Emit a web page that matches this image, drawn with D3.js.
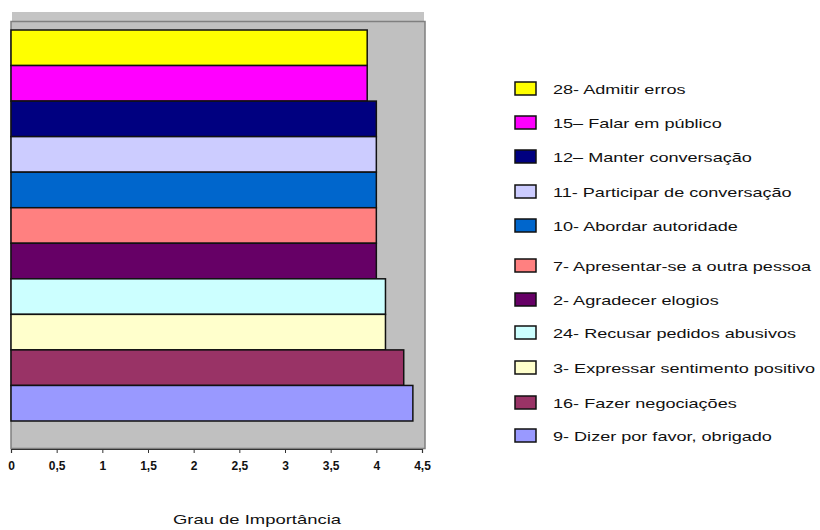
<!DOCTYPE html>
<html>
<head>
<meta charset="utf-8">
<script src="https://cdn.jsdelivr.net/npm/d3@7/dist/d3.min.js"></script>
<style>
  html, body { margin: 0; padding: 0; background: #ffffff; }
  svg { display: block; font-family: Arial, "Liberation Sans", sans-serif; }
</style>
</head>
<body>
<svg id="chart" width="820" height="530"></svg>
<script>
// Skills, from top bar to bottom bar
const categories = [
  "28- Admitir erros",
  "15\u2013 Falar em público",
  "12\u2013 Manter conversação",
  "11- Participar de conversação",
  "10- Abordar autoridade",
  "7- Apresentar-se a outra pessoa",
  "2- Agradecer elogios",
  "24- Recusar pedidos abusivos",
  "3- Expressar sentimento positivo",
  "16- Fazer negociações",
  "9- Dizer por favor, obrigado"
];
// Degree of importance for each skill
const values = [3.9, 3.9, 4.0, 4.0, 4.0, 4.0, 4.0, 4.1, 4.1, 4.3, 4.4];
const barColors = ["#FFFF00", "#FF00FF", "#000080", "#CCCCFF", "#0066CC", "#FF8080",
                   "#660066", "#CCFFFF", "#FFFFCC", "#993366", "#9999FF"];
const tickValues = [0, 0.5, 1, 1.5, 2, 2.5, 3, 3.5, 4, 4.5];
const axisTitle = "Grau de Importância";

const svg = d3.select("#chart");

const x = d3.scaleLinear().domain([0, 4.5]).range([11, 422]);
const y = d3.scaleBand().domain(categories).range([30, 421]).padding(0);

// plot area: light top rim, grey wall, dark frame
svg.append("rect").attr("x", 12).attr("y", 12).attr("width", 412).attr("height", 10)
  .attr("fill", "#c4c4c4");
svg.append("rect").attr("x", 11).attr("y", 21.5).attr("width", 414).attr("height", 427)
  .attr("fill", "#c0c0c0").attr("stroke", "#7f7f7f").attr("stroke-width", 1.5);

// bars
svg.append("g").selectAll("rect").data(categories).join("rect")
  .attr("x", x(0))
  .attr("y", d => y(d))
  .attr("width", (d, i) => x(values[i]) - x(0))
  .attr("height", y.bandwidth())
  .attr("fill", (d, i) => barColors[i])
  .attr("stroke", "#111")
  .attr("stroke-width", 1.5);

// x axis
const axis = d3.axisBottom(x)
  .tickValues(tickValues)
  .tickSize(4)
  .tickFormat(d => String(d).replace(".", ","));
const ax = svg.append("g").attr("transform", "translate(0,449)").call(axis);
ax.select(".domain").attr("stroke", "#333").attr("stroke-width", 1.2);
ax.selectAll(".tick line").attr("stroke", "#333");
ax.selectAll(".tick text")
  .attr("y", 12)
  .attr("font-size", 12)
  .attr("font-weight", "bold")
  .attr("fill", "#111");

// wide, stretched label lettering
const wide = 1.39;
svg.append("text")
  .attr("transform", `translate(257,524) scale(1.42,1)`)
  .attr("text-anchor", "middle")
  .attr("font-size", 13)
  .attr("fill", "#111")
  .text(axisTitle);

// legend
const legendY = [89, 123, 157, 192, 226, 266, 300, 333, 368, 403, 436];
const lg = svg.append("g");
categories.forEach((c, i) => {
  lg.append("rect")
    .attr("x", 515).attr("y", legendY[i] - 7)
    .attr("width", 21).attr("height", 13)
    .attr("fill", barColors[i])
    .attr("stroke", "#111").attr("stroke-width", 1.5);
  lg.append("text")
    .attr("transform", `translate(553,${legendY[i]}) scale(${wide},1)`)
    .attr("dy", "0.35em")
    .attr("font-size", 13)
    .attr("fill", "#111")
    .text(c);
});
</script>
</body>
</html>
